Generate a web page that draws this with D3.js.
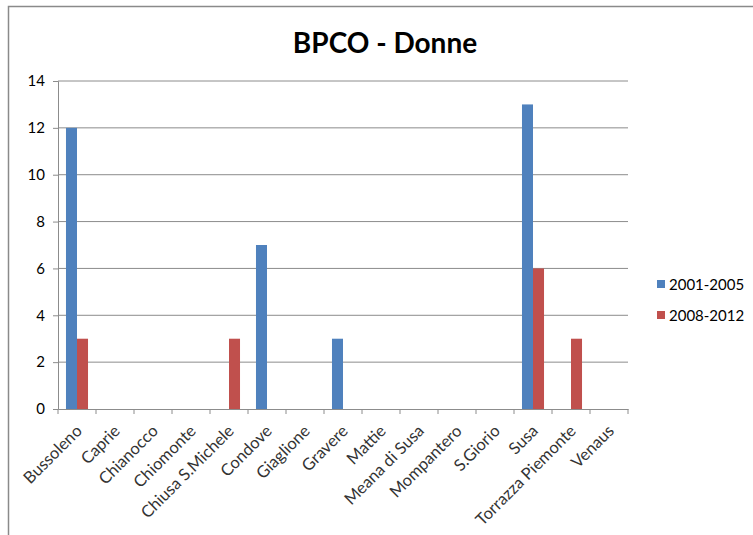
<!DOCTYPE html>
<html>
<head>
<meta charset="utf-8">
<script src="https://cdn.jsdelivr.net/npm/d3@7"></script>
<style>
  html, body { margin: 0; padding: 0; background: #fff; }
  svg { display: block; font-family: Lato, "Open Sans", sans-serif; }
</style>
</head>
<body>
<svg id="chart" width="753" height="535"></svg>
<script>
const title = "BPCO - Donne";
const categories = ["Bussoleno", "Caprie", "Chianocco", "Chiomonte", "Chiusa S.Michele", "Condove", "Giaglione", "Gravere", "Mattie", "Meana di Susa", "Mompantero", "S.Giorio", "Susa", "Torrazza Piemonte", "Venaus"];
const seriesNames = ["2001-2005", "2008-2012"];
const series2001_2005 = [12, 0, 0, 0, 0, 7, 0, 3, 0, 0, 0, 0, 13, 0, 0];
const series2008_2012 = [3, 0, 0, 0, 3, 0, 0, 0, 0, 0, 0, 0, 6, 3, 0];
const yTicks = [0, 2, 4, 6, 8, 10, 12, 14];
const colors = ["#4F81BD", "#C0504D"];

const svg = d3.select("#chart");
const W = 753, H = 535;
const plot = { left: 58, right: 628, top: 81, bottom: 409 };

// outer frame (cropped chart border)
svg.append("path")
  .attr("d", `M8.5,${H} L8.5,6.5 L${W},6.5`)
  .attr("fill", "none").attr("stroke", "#8a8a8a").attr("stroke-width", 1.5);

const x = d3.scaleBand().domain(categories).range([plot.left, plot.right]).paddingInner(0).paddingOuter(0);
const y = d3.scaleLinear().domain([0, 14]).range([plot.bottom, plot.top]);
const groupW = x.bandwidth() * 0.58;
const x1 = d3.scaleBand().domain(seriesNames).range([0, groupW]);

// gridlines
svg.append("g").selectAll("line").data(yTicks.filter(d => d > 0)).join("line")
  .attr("x1", plot.left).attr("x2", plot.right)
  .attr("y1", d => y(d)).attr("y2", d => y(d))
  .attr("stroke", "#8c8c8c").attr("stroke-width", 1);

// y axis
const yAxis = svg.append("g").attr("transform", `translate(${plot.left},0)`)
  .call(d3.axisLeft(y).tickValues(yTicks).tickSize(5).tickPadding(8));
yAxis.select(".domain").attr("stroke", "#8c8c8c");
yAxis.selectAll(".tick line").attr("stroke", "#8c8c8c");
yAxis.selectAll("text").attr("font-size", 15).attr("fill", "#000").attr("font-family", "Lato, sans-serif");

// bars
const data = [series2001_2005, series2008_2012];
data.forEach((vals, si) => {
  svg.append("g").selectAll("rect").data(categories).join("rect")
    .attr("x", (c) => x(c) + (x.bandwidth() - groupW) / 2 + x1(seriesNames[si]))
    .attr("width", x1.bandwidth())
    .attr("y", (c, i) => y(vals[i]))
    .attr("height", (c, i) => y(0) - y(vals[i]))
    .attr("fill", colors[si]);
});

// x axis
const xAxis = svg.append("g").attr("transform", `translate(0,${plot.bottom})`)
  .call(d3.axisBottom(x).tickSize(0).tickFormat(""));
xAxis.select(".domain").attr("stroke", "#8c8c8c");
// boundary tick marks
const bounds = categories.map(c => x(c)).concat([plot.right]);
svg.append("g").selectAll("line").data(bounds).join("line")
  .attr("x1", d => d).attr("x2", d => d)
  .attr("y1", plot.bottom).attr("y2", plot.bottom + 5)
  .attr("stroke", "#8c8c8c");

svg.append("g").selectAll("text").data(categories).join("text")
  .attr("transform", c => `translate(${x(c) + x.bandwidth() / 2 + 6},${plot.bottom + 23}) rotate(-45)`)
  .attr("text-anchor", "end")
  .attr("font-size", 16.5)
  .attr("fill", "#333")
  .text(c => c);

// title
svg.append("text")
  .attr("x", 385).attr("y", 53)
  .attr("text-anchor", "middle")
  .attr("font-size", 28).attr("font-weight", "bold")
  .attr("fill", "#000")
  .text(title);

// legend
const lg = svg.append("g");
seriesNames.forEach((s, i) => {
  const ly = 285 + i * 31;
  lg.append("rect").attr("x", 657).attr("y", ly - 5).attr("width", 8).attr("height", 8).attr("fill", colors[i]);
  lg.append("text").attr("x", 669).attr("y", ly + 5).attr("font-size", 15).attr("fill", "#000").text(s);
});
</script>
</body>
</html>
